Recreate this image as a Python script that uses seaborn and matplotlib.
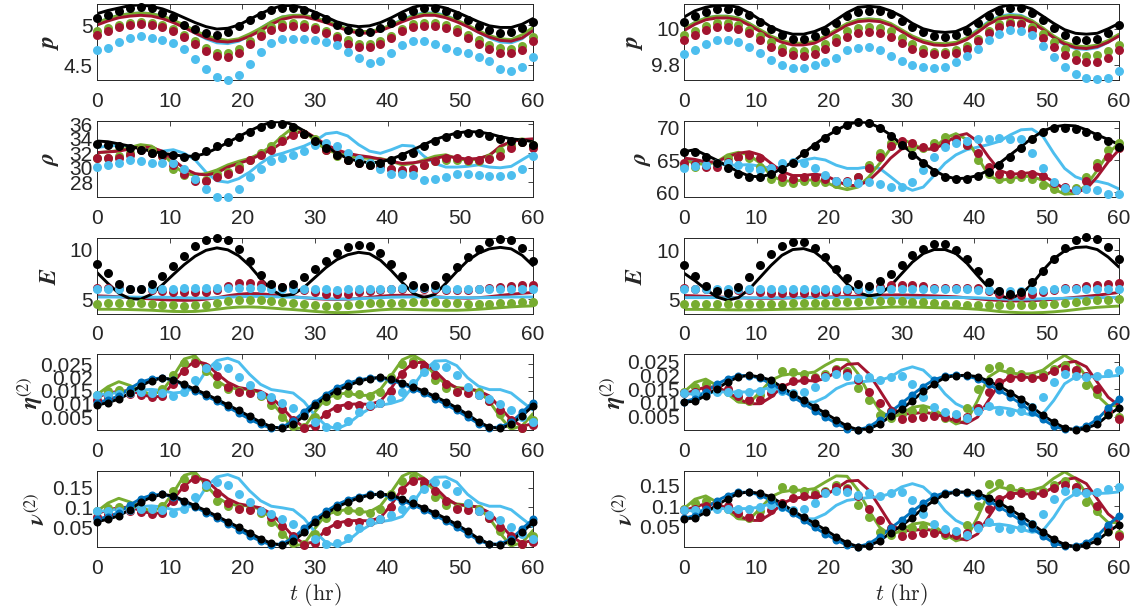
import numpy as np
import matplotlib
matplotlib.use("Agg")
import matplotlib.pyplot as plt
from matplotlib.ticker import FuncFormatter
import seaborn as sns

# ---------------------------------------------------------------- time grid
T = np.linspace(0, 60, 41)          # sampling every 1.5 h
XTICKS = [0, 10, 20, 30, 40, 50, 60]

# ---------------------------------------------------------------- colours
C_BLACK = "#000000"
C_BLUE = "#0072BD"
C_LBLUE = "#4DBEEE"
C_GREEN = "#77AC30"
C_RED = "#A2142F"

# ================================================================ p, left
p_l_black_line = [5.14, 5.18, 5.21, 5.24, 5.25, 5.23, 5.20, 5.15, 5.09, 5.03,
                  4.98, 4.95, 4.96, 5.00, 5.07, 5.14, 5.20, 5.24, 5.24, 5.21,
                  5.16, 5.10, 5.04, 5.00, 4.98, 4.99, 5.03, 5.09, 5.16, 5.22,
                  5.25, 5.24, 5.21, 5.16, 5.10, 5.04, 4.99, 4.97, 4.97, 5.01, 5.08]
p_l_black_dots = [5.09, 5.125, 5.17, 5.21, 5.22, 5.21, 5.15, 5.10, 5.00, 4.95,
                  4.90, 4.875, 4.91, 4.99, 5.06, 5.13, 5.18, 5.21, 5.21, 5.18,
                  5.13, 5.07, 5.00, 4.94, 4.91, 4.91, 4.96, 5.03, 5.11, 5.17,
                  5.21, 5.21, 5.17, 5.12, 5.06, 4.99, 4.94, 4.90, 4.91, 4.96, 5.04]
p_l_green_line = [5.03, 5.08, 5.12, 5.14, 5.15, 5.14, 5.11, 5.06, 5.00, 4.93,
                  4.87, 4.83, 4.81, 4.83, 4.89, 4.96, 5.04, 5.10, 5.12, 5.12,
                  5.09, 5.05, 5.00, 4.95, 4.92, 4.92, 4.95, 5.00, 5.06, 5.11,
                  5.14, 5.14, 5.11, 5.06, 5.00, 4.93, 4.87, 4.83, 4.82, 4.88, 4.97]
p_l_red_line = [5.00, 5.05, 5.09, 5.11, 5.12, 5.11, 5.08, 5.03, 4.97, 4.90,
                4.84, 4.80, 4.79, 4.81, 4.86, 4.93, 5.01, 5.07, 5.10, 5.10,
                5.07, 5.03, 4.98, 4.93, 4.90, 4.90, 4.93, 4.98, 5.04, 5.09,
                5.12, 5.12, 5.09, 5.04, 4.98, 4.91, 4.85, 4.81, 4.80, 4.84, 4.93]
p_l_lblue_line = [5.03, 5.08, 5.12, 5.14, 5.15, 5.14, 5.11, 5.05, 4.98, 4.90,
                  4.83, 4.78, 4.77, 4.80, 4.87, 4.96, 5.04, 5.10, 5.12, 5.12,
                  5.09, 5.05, 5.00, 4.95, 4.91, 4.91, 4.94, 5.00, 5.07, 5.12,
                  5.15, 5.15, 5.12, 5.06, 4.99, 4.91, 4.84, 4.79, 4.78, 4.83, 4.94]
p_l_green_dots = [4.92, 4.96, 5.00, 5.03, 5.04, 5.03, 5.00, 4.95, 4.88, 4.80,
                  4.72, 4.66, 4.65, 4.70, 4.80, 4.90, 4.97, 5.01, 5.02, 5.01,
                  4.98, 4.93, 4.87, 4.81, 4.77, 4.77, 4.80, 4.87, 4.95, 5.01,
                  5.03, 5.03, 5.00, 4.95, 4.88, 4.81, 4.75, 4.71, 4.70, 4.74, 4.85]
p_l_red_dots = [4.875, 4.92, 4.97, 5.00, 5.01, 5.00, 4.97, 4.92, 4.85, 4.76,
                4.68, 4.62, 4.61, 4.66, 4.76, 4.86, 4.94, 4.98, 4.99, 4.98,
                4.95, 4.90, 4.84, 4.77, 4.73, 4.73, 4.77, 4.84, 4.92, 4.97,
                4.99, 4.99, 4.96, 4.91, 4.84, 4.77, 4.70, 4.66, 4.65, 4.69, 4.80]
p_l_lblue_dots = [4.69, 4.72, 4.79, 4.84, 4.86, 4.84, 4.81, 4.78, 4.70, 4.58,
                  4.46, 4.36, 4.32, 4.38, 4.52, 4.67, 4.78, 4.825, 4.83, 4.825,
                  4.82, 4.79, 4.75, 4.67, 4.59, 4.53, 4.55, 4.65, 4.75, 4.80,
                  4.80, 4.77, 4.71, 4.675, 4.65, 4.60, 4.55, 4.46, 4.43, 4.48, 4.60]

# ================================================================ p, right
p_r_black_line = [10.065, 10.10, 10.12, 10.13, 10.13, 10.12, 10.09, 10.05, 10.01, 9.985,
                  9.97, 9.97, 9.985, 10.01, 10.05, 10.09, 10.12, 10.125, 10.12, 10.10,
                  10.07, 10.03, 10.00, 9.985, 9.98, 9.985, 10.01, 10.05, 10.09, 10.12,
                  10.135, 10.13, 10.11, 10.07, 10.03, 9.995, 9.975, 9.97, 9.975, 10.00, 10.03]
p_r_black_dots = [10.04, 10.07, 10.095, 10.11, 10.11, 10.10, 10.075, 10.04, 10.00, 9.965,
                  9.945, 9.945, 9.96, 9.99, 10.03, 10.07, 10.095, 10.10, 10.10, 10.08,
                  10.045, 10.01, 9.98, 9.96, 9.957, 9.965, 9.99, 10.03, 10.07, 10.10,
                  10.117, 10.115, 10.09, 10.05, 10.005, 9.965, 9.94, 9.935, 9.945, 9.975, 10.02]
p_r_green_line = [10.00, 10.035, 10.06, 10.07, 10.07, 10.06, 10.03, 9.995, 9.96, 9.935,
                  9.92, 9.92, 9.93, 9.96, 9.995, 10.03, 10.05, 10.055, 10.05, 10.03,
                  9.995, 9.96, 9.935, 9.92, 9.917, 9.925, 9.95, 9.99, 10.035, 10.065,
                  10.074, 10.07, 10.045, 10.005, 9.96, 9.925, 9.905, 9.90, 9.91, 9.935, 9.97]
p_r_red_line = [9.99, 10.025, 10.05, 10.06, 10.06, 10.05, 10.02, 9.985, 9.95, 9.925,
                9.91, 9.91, 9.92, 9.95, 9.985, 10.02, 10.04, 10.045, 10.04, 10.02,
                9.985, 9.95, 9.925, 9.91, 9.907, 9.915, 9.94, 9.98, 10.025, 10.055,
                10.064, 10.06, 10.035, 9.995, 9.95, 9.915, 9.895, 9.89, 9.90, 9.925, 9.96]
p_r_lblue_line = [10.00, 10.035, 10.06, 10.07, 10.07, 10.06, 10.03, 9.99, 9.955, 9.93,
                  9.915, 9.915, 9.925, 9.955, 9.99, 10.025, 10.05, 10.055, 10.05, 10.025,
                  9.99, 9.955, 9.93, 9.915, 9.912, 9.92, 9.95, 9.995, 10.04, 10.07,
                  10.08, 10.075, 10.045, 10.00, 9.95, 9.91, 9.89, 9.885, 9.895, 9.925, 9.965]
p_r_green_dots = [9.963, 9.99, 10.015, 10.03, 10.03, 10.02, 9.995, 9.96, 9.925, 9.895,
                  9.876, 9.876, 9.885, 9.915, 9.95, 9.985, 10.005, 10.01, 10.005, 9.985,
                  9.95, 9.915, 9.89, 9.872, 9.87, 9.88, 9.905, 9.945, 9.99, 10.025,
                  10.04, 10.035, 10.01, 9.97, 9.925, 9.885, 9.86, 9.85, 9.855, 9.875, 9.91]
p_r_red_dots = [9.935, 9.965, 9.995, 10.01, 10.01, 10.00, 9.975, 9.94, 9.90, 9.87,
                9.852, 9.85, 9.86, 9.89, 9.925, 9.955, 9.975, 9.98, 9.975, 9.955,
                9.92, 9.89, 9.865, 9.857, 9.857, 9.865, 9.89, 9.93, 9.975, 10.01,
                10.028, 10.025, 9.995, 9.95, 9.90, 9.855, 9.825, 9.815, 9.815, 9.84, 9.88]
p_r_lblue_dots = [9.86, 9.88, 9.917, 9.935, 9.935, 9.926, 9.90, 9.865, 9.824, 9.796,
                  9.78, 9.78, 9.796, 9.815, 9.84, 9.88, 9.894, 9.898, 9.883, 9.85,
                  9.82, 9.796, 9.787, 9.783, 9.79, 9.815, 9.846, 9.89, 9.94, 9.972,
                  9.994, 9.99, 9.963, 9.907, 9.843, 9.787, 9.746, 9.726, 9.72, 9.728, 9.763]

# ================================================================ rho, left
r_l_black_line = [33.7, 33.6, 33.3, 33.0, 32.6, 32.3, 32.0, 31.8, 31.6, 31.6,
                  32.0, 32.7, 33.5, 34.3, 35.1, 35.8, 36.3, 36.4, 35.95, 35.1,
                  34.0, 33.0, 32.0, 31.3, 30.9, 30.7, 30.8, 31.2, 31.8, 32.5,
                  33.2, 33.9, 34.4, 34.8, 35.0, 34.95, 34.7, 34.3, 34.0, 33.85, 33.6]
r_l_black_dots = [33.3, 33.2, 33.0, 32.8, 32.5, 32.1, 31.9, 31.7, 31.5, 31.6,
                  32.3, 33.0, 33.5, 34.2, 34.9, 35.6, 36.1, 36.1, 35.6, 34.7,
                  33.7, 32.8, 31.8, 31.1, 30.6, 30.4, 30.7, 31.1, 31.6, 32.1,
                  33.0, 33.7, 34.2, 34.7, 34.8, 34.8, 34.4, 34.0, 33.7, 33.5, 33.2]
r_l_green_line = [32.1, 32.2, 32.4, 32.8, 33.2, 33.0, 32.0, 30.4, 29.2, 29.0,
                  29.2, 29.7, 30.4, 30.9, 31.3, 32.0, 33.0, 34.4, 35.6, 35.1,
                  33.7, 32.5, 32.0, 31.7, 31.4, 31.3, 31.3, 30.9, 30.4, 30.6,
                  31.1, 31.6, 31.8, 31.3, 31.0, 31.2, 31.8, 32.8, 33.7, 34.0, 33.7]
r_l_red_line = [32.1, 32.2, 32.3, 32.6, 32.9, 32.8, 32.3, 31.1, 29.9, 29.2,
                29.0, 29.3, 30.1, 30.6, 31.1, 31.8, 32.5, 33.5, 34.7, 35.1,
                34.2, 33.2, 32.5, 32.0, 31.7, 31.5, 31.2, 30.9, 30.6, 30.7,
                30.9, 31.3, 31.6, 31.4, 31.2, 31.3, 31.7, 33.0, 33.6, 33.9, 34.0]
r_l_lblue_line = [32.8, 33.0, 33.1, 33.0, 32.8, 32.6, 32.3, 32.5, 32.0, 31.1,
                  29.4, 28.2, 28.0, 28.5, 29.4, 30.6, 31.6, 32.0, 32.5, 33.0,
                  33.7, 34.7, 34.9, 34.4, 33.2, 32.3, 32.0, 32.5, 33.1, 33.0,
                  31.6, 30.6, 30.1, 30.1, 30.2, 30.4, 30.1, 30.0, 30.2, 31.1, 32.0]
r_l_green_dots = [31.3, 31.3, 31.6, 32.0, 32.8, 32.5, 31.6, 29.9, 28.95, 28.3,
                  28.3, 29.2, 29.4, 30.2, 31.1, 32.0, 33.0, 33.95, 34.9, 34.7,
                  34.0, 32.5, 31.6, 31.1, 30.9, 30.6, 30.4, 29.9, 29.4, 29.7,
                  30.4, 30.9, 31.1, 31.1, 30.9, 30.9, 31.3, 32.3, 33.2, 33.5, 33.2]
r_l_red_dots = [31.3, 31.3, 31.3, 31.8, 32.4, 32.0, 31.6, 30.4, 29.2, 28.2,
                28.2, 28.7, 29.2, 29.9, 31.1, 31.8, 32.5, 33.7, 34.5, 34.7,
                33.5, 32.5, 31.8, 31.1, 30.6, 30.4, 30.1, 29.9, 29.7, 29.8,
                30.4, 30.9, 31.3, 31.3, 31.1, 31.1, 31.2, 31.6, 32.8, 33.5, 32.8]
r_l_lblue_dots = [30.1, 30.4, 30.6, 31.1, 30.9, 30.6, 30.7, 30.6, 29.9, 28.5,
                  27.05, 26.0, 26.0, 27.05, 28.7, 29.9, 30.9, 31.4, 31.8, 32.3,
                  33.1, 33.4, 33.0, 32.1, 31.2, 30.6, 29.8, 29.2, 29.2, 28.95,
                  28.3, 28.4, 28.7, 29.1, 29.2, 29.0, 28.8, 28.9, 29.0, 29.9, 31.6]

# ================================================================ rho, right
r_r_black_line = [66.3, 66.6, 65.8, 65.0, 64.05, 63.2, 62.5, 62.4, 62.8, 63.7,
                  64.7, 66.05, 67.4, 68.6, 69.6, 70.5, 70.95, 70.8, 70.0, 68.9,
                  67.4, 66.05, 64.6, 63.4, 62.5, 62.1, 62.2, 62.6, 63.4, 64.5,
                  65.8, 67.1, 68.4, 69.5, 70.15, 70.4, 70.3, 69.7, 68.9, 68.2, 67.4]
r_r_black_dots = [66.2, 66.3, 65.5, 64.6, 63.8, 62.9, 62.4, 62.4, 62.9, 63.6,
                  64.6, 66.05, 67.2, 68.4, 69.6, 70.5, 70.9, 70.8, 70.0, 68.8,
                  67.4, 65.8, 64.5, 63.2, 62.4, 62.0, 62.1, 62.5, 63.2, 64.2,
                  65.5, 66.8, 68.2, 69.3, 69.9, 70.0, 69.8, 69.3, 68.7, 67.9, 67.0]
r_r_green_line = [65.0, 64.5, 64.3, 64.7, 65.8, 66.2, 65.8, 64.5, 62.6, 61.8,
                  61.7, 61.9, 61.9, 61.6, 60.8, 60.4, 60.8, 62.4, 64.5, 66.8,
                  68.2, 67.6, 66.6, 66.8, 68.4, 69.1, 68.2, 65.5, 62.6, 61.8,
                  62.1, 62.4, 62.5, 61.8, 60.5, 59.7, 59.8, 61.1, 63.4, 66.05, 67.6]
r_r_red_line = [65.3, 65.1, 64.7, 64.7, 65.5, 66.05, 66.3, 65.8, 64.5, 63.2,
                62.6, 62.6, 62.8, 62.6, 61.8, 61.05, 61.05, 61.8, 63.4, 65.3,
                66.7, 67.1, 66.7, 66.7, 67.6, 68.7, 69.1, 67.9, 65.5, 63.4,
                62.8, 62.9, 63.05, 62.6, 61.6, 60.5, 60.0, 60.5, 62.4, 64.7, 66.6]
r_r_lblue_line = [65.0, 64.9, 64.7, 64.5, 64.2, 64.2, 64.3, 64.05, 63.7, 63.95,
                  64.5, 65.0, 65.3, 65.0, 64.2, 63.7, 63.7, 63.95, 63.7, 62.4,
                  61.05, 60.3, 60.8, 62.6, 64.5, 65.8, 66.6, 67.0, 67.4, 67.9,
                  68.9, 69.7, 69.8, 68.7, 66.05, 63.7, 62.4, 61.8, 61.7, 61.3, 60.5]
r_r_green_dots = [64.05, 63.95, 64.05, 64.5, 65.3, 65.5, 65.3, 63.9, 62.1, 61.6,
                  61.4, 61.7, 61.65, 61.6, 61.3, 61.4, 62.4, 64.2, 66.05, 67.6,
                  67.6, 67.1, 66.8, 67.6, 68.6, 68.4, 67.4, 65.0, 62.9, 62.1,
                  62.1, 62.4, 62.1, 61.2, 60.5, 60.3, 60.7, 62.4, 64.5, 66.6, 67.6]
r_r_red_dots = [64.5, 64.35, 63.95, 63.85, 64.7, 65.5, 65.8, 65.3, 63.7, 62.4,
                62.1, 62.4, 62.4, 62.1, 61.7, 61.8, 62.4, 63.7, 65.5, 67.2,
                67.9, 67.6, 67.1, 67.1, 67.7, 68.2, 67.4, 66.05, 63.9, 62.9,
                62.8, 62.9, 62.9, 62.5, 61.4, 60.8, 60.4, 61.8, 63.9, 65.5, 66.8]
r_r_lblue_dots = [63.8, 64.05, 64.2, 64.5, 64.5, 64.3, 63.8, 63.5, 63.7, 64.5,
                  64.7, 64.5, 63.7, 62.6, 61.8, 61.6, 61.45, 61.6, 61.3, 60.8,
                  60.8, 61.6, 63.4, 65.5, 67.0, 67.6, 67.9, 68.2, 68.3, 68.4,
                  68.3, 68.2, 66.1, 63.7, 61.6, 60.7, 60.4, 60.5, 60.3, 59.8, 59.8]

# ================================================================ E, left
e_l_black_line = [7.7, 6.6, 5.6, 5.05, 5.0, 5.5, 6.45, 7.5, 8.5, 9.35,
                  9.95, 10.2, 10.0, 9.4, 8.4, 7.1, 5.95, 5.35, 5.5, 6.2,
                  7.2, 8.2, 9.0, 9.5, 9.75, 9.6, 8.95, 7.9, 6.7, 5.6,
                  5.15, 5.5, 6.6, 7.8, 8.9, 9.65, 10.1, 10.25, 10.1, 9.45, 8.4]
e_l_black_dots = [8.57, 7.62, 6.53, 6.02, 6.02, 6.53, 7.38, 8.4, 9.42, 10.34,
                  11.02, 11.22, 11.02, 10.1, 8.91, 7.48, 6.53, 6.26, 6.53, 7.21,
                  8.06, 8.91, 9.66, 10.27, 10.54, 10.34, 9.66, 8.57, 7.38, 6.46,
                  6.26, 6.4, 7.28, 8.3, 9.25, 10.1, 10.78, 11.12, 10.95, 10.2, 8.91]
e_l_lblue_line = [5.22, 5.22, 5.22, 5.22, 5.2, 5.2, 5.2, 5.18, 5.15, 5.12,
                  5.12, 5.15, 5.2, 5.25, 5.28, 5.28, 5.25, 5.22, 5.2, 5.15,
                  5.1, 5.05, 5.02, 5.02, 5.05, 5.1, 5.15, 5.2, 5.22, 5.22,
                  5.22, 5.2, 5.18, 5.16, 5.15, 5.15, 5.17, 5.2, 5.22, 5.22, 5.22]
e_l_red_line = [5.34, 5.3, 5.25, 5.18, 5.1, 5.02, 4.95, 4.9, 4.88, 4.9,
                5.0, 5.15, 5.35, 5.5, 5.58, 5.55, 5.45, 5.35, 5.25, 5.15,
                5.05, 5.0, 4.98, 5.0, 5.08, 5.18, 5.3, 5.38, 5.4, 5.38,
                5.32, 5.25, 5.18, 5.12, 5.1, 5.15, 5.25, 5.38, 5.5, 5.6, 5.68]
e_l_green_line = [3.98, 3.98, 3.97, 3.95, 3.92, 3.88, 3.82, 3.76, 3.74, 3.76,
                  3.85, 3.98, 4.12, 4.2, 4.22, 4.18, 4.1, 4.02, 3.95, 3.86,
                  3.76, 3.68, 3.64, 3.65, 3.72, 3.82, 3.92, 3.98, 3.98, 3.95,
                  3.92, 3.9, 3.88, 3.88, 3.92, 3.98, 4.06, 4.14, 4.22, 4.28, 4.32]
e_l_lblue_dots = [6.05, 6.05, 6.07, 6.05, 6.05, 6.05, 6.07, 6.07, 6.1, 6.1,
                  6.12, 6.14, 6.14, 6.12, 6.1, 6.1, 6.07, 6.05, 6.03, 6.01,
                  6.0, 5.99, 5.98, 5.99, 6.01, 6.03, 6.05, 6.07, 6.09, 6.1,
                  6.1, 6.1, 6.08, 6.06, 6.05, 6.03, 6.02, 6.01, 6.01, 6.01, 6.01]
e_l_red_dots = [6.15, 6.12, 6.1, 6.05, 6.0, 5.95, 5.85, 5.75, 5.68, 5.68,
                5.75, 5.95, 6.35, 6.6, 6.6, 6.55, 6.4, 6.2, 6.1, 5.9,
                5.7, 5.55, 5.5, 5.55, 5.7, 5.85, 5.95, 6.0, 6.05, 6.1,
                6.05, 6.0, 5.95, 5.95, 5.95, 6.0, 6.1, 6.25, 6.35, 6.4, 6.45]
e_l_green_dots = [4.56, 4.62, 4.66, 4.66, 4.62, 4.56, 4.45, 4.4, 4.35, 4.38,
                  4.45, 4.62, 4.78, 4.92, 4.95, 4.92, 4.85, 4.76, 4.66, 4.55,
                  4.42, 4.35, 4.32, 4.38, 4.5, 4.6, 4.66, 4.66, 4.66, 4.68,
                  4.72, 4.7, 4.66, 4.58, 4.5, 4.5, 4.52, 4.6, 4.66, 4.72, 4.76]

# ================================================================ E, right
e_r_black_line = [7.66, 6.9, 6.03, 5.24, 4.9, 5.17, 6.03, 7.24, 8.45, 9.48,
                  10.07, 10.17, 9.83, 8.97, 7.76, 6.55, 5.69, 5.34, 5.52, 6.38,
                  7.59, 8.79, 9.66, 10.07, 10.07, 9.66, 8.69, 7.41, 6.2, 5.34,
                  5.1, 5.52, 6.55, 7.93, 9.14, 9.93, 10.28, 10.34, 10.07, 9.31, 8.28]
e_r_black_dots = [8.45, 7.41, 6.38, 5.86, 5.69, 6.28, 7.24, 8.45, 9.59, 10.41,
                  10.86, 10.86, 10.28, 9.31, 8.1, 7.17, 6.55, 6.38, 6.83, 7.59,
                  8.45, 9.48, 10.17, 10.62, 10.62, 10.07, 9.14, 7.93, 6.72, 5.86,
                  5.52, 5.79, 6.72, 7.93, 9.14, 10.28, 11.03, 11.31, 11.1, 10.34, 9.14]
e_r_lblue_line = [5.17, 5.17, 5.17, 5.17, 5.16, 5.15, 5.15, 5.15, 5.15, 5.15,
                  5.15, 5.16, 5.17, 5.18, 5.18, 5.18, 5.17, 5.17, 5.16, 5.16,
                  5.15, 5.15, 5.16, 5.17, 5.18, 5.18, 5.17, 5.15, 5.1, 5.05,
                  5.0, 5.0, 5.02, 5.05, 5.08, 5.1, 5.12, 5.14, 5.16, 5.18, 5.2]
e_r_red_line = [5.38, 5.35, 5.3, 5.25, 5.2, 5.15, 5.12, 5.1, 5.1, 5.12,
                5.15, 5.18, 5.2, 5.22, 5.25, 5.28, 5.32, 5.38, 5.42, 5.45,
                5.45, 5.42, 5.38, 5.35, 5.3, 5.25, 5.15, 5.05, 4.95, 4.88,
                4.83, 4.82, 4.85, 4.92, 5.0, 5.1, 5.2, 5.3, 5.42, 5.55, 5.7]
e_r_green_line = [3.97, 3.97, 3.96, 3.95, 3.93, 3.92, 3.92, 3.93, 3.95, 3.98,
                  4.0, 4.02, 4.03, 4.03, 4.02, 4.02, 4.05, 4.1, 4.15, 4.2,
                  4.21, 4.2, 4.18, 4.15, 4.12, 4.1, 4.05, 3.98, 3.88, 3.75,
                  3.68, 3.63, 3.62, 3.65, 3.72, 3.82, 3.95, 4.08, 4.18, 4.25, 4.31]
e_r_lblue_dots = [6.03, 6.03, 6.04, 6.04, 6.03, 6.03, 6.03, 6.05, 6.05, 6.06,
                  6.06, 6.05, 6.05, 6.05, 6.06, 6.06, 6.05, 6.05, 6.05, 6.05,
                  6.05, 6.03, 6.03, 6.03, 6.03, 6.0, 6.0, 5.95, 5.9, 5.86,
                  5.86, 5.86, 5.9, 5.95, 6.0, 6.03, 6.05, 6.05, 6.05, 6.05, 6.05]
e_r_red_dots = [6.1, 6.05, 6.0, 5.95, 5.95, 5.95, 5.9, 5.75, 5.65, 5.62,
                5.62, 5.62, 5.65, 5.7, 5.75, 5.85, 5.95, 6.1, 6.3, 6.45,
                6.48, 6.45, 6.35, 6.2, 6.1, 6.1, 6.2, 6.15, 5.85, 5.55,
                5.45, 5.45, 5.55, 5.75, 5.95, 6.1, 6.2, 6.35, 6.5, 6.6, 6.65]
e_r_green_dots = [4.48, 4.5, 4.52, 4.52, 4.5, 4.48, 4.48, 4.5, 4.52, 4.55,
                  4.58, 4.6, 4.62, 4.65, 4.68, 4.7, 4.75, 4.8, 4.83, 4.83,
                  4.8, 4.75, 4.7, 4.62, 4.55, 4.5, 4.45, 4.42, 4.41, 4.42,
                  4.42, 4.4, 4.42, 4.48, 4.55, 4.62, 4.7, 4.8, 4.88, 4.95, 5.03]

# ================================================================ eta(2), left
eta_l_black = [0.0095, 0.0105, 0.0118, 0.0140, 0.0168, 0.0188, 0.0198, 0.0192, 0.0174, 0.0155,
               0.0137, 0.0117, 0.0096, 0.0075, 0.0053, 0.0031, 0.0013, 0.0007, 0.0022, 0.0055,
               0.0095, 0.0125, 0.0150, 0.0168, 0.0185, 0.0196, 0.0200, 0.0195, 0.0180, 0.0165,
               0.0148, 0.0128, 0.0108, 0.0085, 0.0060, 0.0032, 0.0012, 0.0007, 0.0022, 0.0055, 0.0092]
eta_l_blue = [0.0105, 0.0115, 0.0130, 0.0158, 0.0182, 0.0195, 0.0198, 0.0190, 0.0170, 0.0150,
              0.0130, 0.0110, 0.0088, 0.0065, 0.0042, 0.0022, 0.0008, 0.0012, 0.0035, 0.0070,
              0.0105, 0.0135, 0.0160, 0.0178, 0.0190, 0.0198, 0.0198, 0.0190, 0.0175, 0.0158,
              0.0140, 0.0120, 0.0098, 0.0075, 0.0050, 0.0025, 0.0010, 0.0012, 0.0030, 0.0068, 0.0105]
eta_l_green_line = [0.0135, 0.0165, 0.0184, 0.0170, 0.0150, 0.0135, 0.0150, 0.0205, 0.0270, 0.0282,
                    0.0234, 0.0188, 0.0162, 0.0156, 0.0155, 0.0142, 0.0109, 0.0057, 0.0005, 0.0010,
                    0.0070, 0.0122, 0.0135, 0.0142, 0.0131, 0.0133, 0.0155, 0.0208, 0.0267, 0.0285,
                    0.0260, 0.0208, 0.0175, 0.0162, 0.0158, 0.0149, 0.0109, 0.0050, 0.0004, 0.0017, 0.0063]
eta_l_red_line = [0.0125, 0.0140, 0.0148, 0.0150, 0.0138, 0.0125, 0.0130, 0.0180, 0.0232, 0.0262,
                  0.0252, 0.0215, 0.0182, 0.0162, 0.0155, 0.0148, 0.0125, 0.0085, 0.0040, 0.0012,
                  0.0020, 0.0065, 0.0090, 0.0098, 0.0100, 0.0098, 0.0110, 0.0160, 0.0220, 0.0255,
                  0.0258, 0.0225, 0.0185, 0.0160, 0.0155, 0.0150, 0.0130, 0.0085, 0.0040, 0.0015, 0.0025]
eta_l_lblue_line = [0.0135, 0.0138, 0.0143, 0.0148, 0.0152, 0.0155, 0.0150, 0.0141, 0.0145, 0.0160,
                    0.0225, 0.0264, 0.0273, 0.0258, 0.0212, 0.0174, 0.0154, 0.0148, 0.0141, 0.0108,
                    0.0056, 0.0018, 0.0005, 0.0023, 0.0056, 0.0082, 0.0095, 0.0102, 0.0115, 0.0167,
                    0.0225, 0.0262, 0.0264, 0.0245, 0.0199, 0.0167, 0.0154, 0.0154, 0.0141, 0.0108, 0.0076]
eta_l_green_dots = [0.0135, 0.0148, 0.0152, 0.0148, 0.0145, 0.0135, 0.0155, 0.0210, 0.0255, 0.0262,
                    0.0225, 0.0175, 0.0155, 0.0148, 0.0145, 0.0130, 0.0095, 0.0050, 0.0015, 0.0012,
                    0.0050, 0.0110, 0.0135, 0.0140, 0.0138, 0.0130, 0.0145, 0.0200, 0.0250, 0.0262,
                    0.0235, 0.0190, 0.0160, 0.0148, 0.0155, 0.0145, 0.0110, 0.0060, 0.0020, 0.0010, 0.0040]
eta_l_red_dots = [0.0115, 0.0125, 0.0135, 0.0138, 0.0132, 0.0125, 0.0130, 0.0175, 0.0225, 0.0255,
                  0.0240, 0.0205, 0.0165, 0.0145, 0.0140, 0.0135, 0.0115, 0.0080, 0.0040, 0.0008,
                  0.0015, 0.0060, 0.0085, 0.0095, 0.0095, 0.0093, 0.0105, 0.0150, 0.0215, 0.0250,
                  0.0245, 0.0210, 0.0175, 0.0145, 0.0140, 0.0135, 0.0110, 0.0075, 0.0040, 0.0010, 0.0020]
eta_l_lblue_dots = [0.0135, 0.0135, 0.0138, 0.0140, 0.0145, 0.0142, 0.0140, 0.0130, 0.0145, 0.0190,
                    0.0235, 0.0245, 0.0235, 0.0200, 0.0170, 0.0135, 0.0125, 0.0105, 0.0085, 0.0060,
                    0.0030, 0.0012, 0.0015, 0.0035, 0.0070, 0.0095, 0.0105, 0.0120, 0.0145, 0.0180,
                    0.0220, 0.0245, 0.0238, 0.0210, 0.0165, 0.0135, 0.0120, 0.0100, 0.0075, 0.0050, 0.0030]

# ================================================================ eta(2), right
eta_r_black = [0.0103, 0.0106, 0.0127, 0.0152, 0.0176, 0.0195, 0.0201, 0.0195, 0.0183, 0.0158,
               0.0133, 0.0109, 0.0086, 0.0062, 0.0038, 0.0015, 0.0002, 0.0005, 0.0023, 0.0052,
               0.0077, 0.0108, 0.0142, 0.0170, 0.0193, 0.0200, 0.0201, 0.0196, 0.0180, 0.0161,
               0.0138, 0.0113, 0.0085, 0.0055, 0.0029, 0.0009, 0.0002, 0.0008, 0.0022, 0.0055, 0.0082]
eta_r_blue = [0.0105, 0.0115, 0.0140, 0.0168, 0.0188, 0.0200, 0.0200, 0.0190, 0.0170, 0.0148,
              0.0122, 0.0098, 0.0072, 0.0048, 0.0025, 0.0006, 0.0002, 0.0012, 0.0038, 0.0068,
              0.0098, 0.0130, 0.0160, 0.0185, 0.0198, 0.0202, 0.0198, 0.0188, 0.0168, 0.0146,
              0.0122, 0.0096, 0.0068, 0.0040, 0.0015, 0.0003, 0.0003, 0.0015, 0.0040, 0.0080, 0.0115]
eta_r_green_line = [0.0140, 0.0175, 0.0187, 0.0164, 0.0133, 0.0103, 0.0100, 0.0140, 0.0183, 0.0201,
                    0.0207, 0.0207, 0.0213, 0.0238, 0.0259, 0.0258, 0.0207, 0.0133, 0.0072, 0.0045,
                    0.0060, 0.0084, 0.0090, 0.0078, 0.0048, 0.0023, 0.0035, 0.0109, 0.0195, 0.0220,
                    0.0210, 0.0205, 0.0207, 0.0220, 0.0250, 0.0274, 0.0250, 0.0195, 0.0127, 0.0090, 0.0090]
eta_r_red_line = [0.0133, 0.0146, 0.0158, 0.0158, 0.0140, 0.0115, 0.0097, 0.0097, 0.0121, 0.0158,
                  0.0176, 0.0183, 0.0180, 0.0189, 0.0213, 0.0241, 0.0244, 0.0207, 0.0146, 0.0084,
                  0.0060, 0.0060, 0.0066, 0.0060, 0.0048, 0.0033, 0.0025, 0.0048, 0.0109, 0.0170,
                  0.0195, 0.0195, 0.0192, 0.0195, 0.0220, 0.0246, 0.0252, 0.0232, 0.0176, 0.0121, 0.0090]
eta_r_lblue_line = [0.0133, 0.0133, 0.0135, 0.0140, 0.0140, 0.0140, 0.0140, 0.0146, 0.0158, 0.0146,
                    0.0121, 0.0103, 0.0103, 0.0121, 0.0152, 0.0170, 0.0176, 0.0180, 0.0183, 0.0195,
                    0.0220, 0.0232, 0.0220, 0.0183, 0.0133, 0.0097, 0.0078, 0.0078, 0.0080, 0.0084,
                    0.0078, 0.0066, 0.0054, 0.0060, 0.0109, 0.0170, 0.0195, 0.0197, 0.0195, 0.0197, 0.0201]
eta_r_green_dots = [0.0140, 0.0160, 0.0168, 0.0160, 0.0140, 0.0118, 0.0108, 0.0130, 0.0175, 0.0218,
                    0.0212, 0.0205, 0.0195, 0.0205, 0.0225, 0.0215, 0.0155, 0.0110, 0.0055, 0.0045,
                    0.0060, 0.0070, 0.0075, 0.0060, 0.0045, 0.0040, 0.0080, 0.0150, 0.0228, 0.0235,
                    0.0215, 0.0205, 0.0195, 0.0205, 0.0225, 0.0240, 0.0215, 0.0165, 0.0133, 0.0060, 0.0048]
eta_r_red_dots = [0.0135, 0.0140, 0.0150, 0.0158, 0.0150, 0.0125, 0.0110, 0.0110, 0.0135, 0.0160,
                  0.0180, 0.0185, 0.0190, 0.0200, 0.0220, 0.0210, 0.0185, 0.0140, 0.0100, 0.0070,
                  0.0040, 0.0045, 0.0050, 0.0052, 0.0050, 0.0045, 0.0050, 0.0080, 0.0140, 0.0175,
                  0.0190, 0.0195, 0.0190, 0.0195, 0.0215, 0.0225, 0.0220, 0.0200, 0.0150, 0.0070, 0.0040]
eta_r_lblue_dots = [0.0135, 0.0135, 0.0135, 0.0140, 0.0140, 0.0138, 0.0140, 0.0145, 0.0152, 0.0145,
                    0.0135, 0.0140, 0.0160, 0.0195, 0.0205, 0.0200, 0.0190, 0.0195, 0.0185, 0.0195,
                    0.0200, 0.0170, 0.0120, 0.0085, 0.0065, 0.0060, 0.0045, 0.0070, 0.0090, 0.0070,
                    0.0065, 0.0070, 0.0084, 0.0120, 0.0175, 0.0205, 0.0200, 0.0195, 0.0200, 0.0210, 0.0220]

# ================================================================ nu(2), left
nu_l_black = [0.064, 0.070, 0.079, 0.094, 0.113, 0.126, 0.133, 0.129, 0.117, 0.104,
              0.092, 0.078, 0.064, 0.050, 0.036, 0.021, 0.009, 0.005, 0.015, 0.037,
              0.064, 0.084, 0.101, 0.113, 0.124, 0.131, 0.134, 0.131, 0.121, 0.111,
              0.099, 0.086, 0.072, 0.057, 0.040, 0.021, 0.008, 0.005, 0.015, 0.037, 0.062]
nu_l_blue = [0.070, 0.077, 0.087, 0.106, 0.122, 0.131, 0.133, 0.127, 0.114, 0.101,
             0.087, 0.074, 0.059, 0.044, 0.028, 0.015, 0.005, 0.008, 0.023, 0.047,
             0.070, 0.090, 0.107, 0.119, 0.127, 0.133, 0.133, 0.127, 0.117, 0.106,
             0.094, 0.080, 0.066, 0.050, 0.034, 0.017, 0.007, 0.008, 0.020, 0.046, 0.070]
nu_l_green_line = [0.090, 0.111, 0.123, 0.114, 0.101, 0.090, 0.101, 0.137, 0.181, 0.189,
                   0.157, 0.126, 0.109, 0.105, 0.104, 0.095, 0.073, 0.038, 0.003, 0.007,
                   0.047, 0.082, 0.090, 0.095, 0.088, 0.089, 0.104, 0.139, 0.179, 0.191,
                   0.174, 0.139, 0.117, 0.109, 0.106, 0.100, 0.073, 0.034, 0.003, 0.011, 0.042]
nu_l_red_line = [0.084, 0.094, 0.099, 0.101, 0.092, 0.084, 0.087, 0.121, 0.155, 0.176,
                 0.169, 0.144, 0.122, 0.109, 0.104, 0.099, 0.084, 0.057, 0.027, 0.008,
                 0.013, 0.044, 0.060, 0.066, 0.067, 0.066, 0.074, 0.107, 0.147, 0.171,
                 0.173, 0.151, 0.124, 0.107, 0.104, 0.101, 0.087, 0.057, 0.027, 0.010, 0.017]
nu_l_lblue_line = [0.090, 0.092, 0.096, 0.099, 0.102, 0.104, 0.101, 0.094, 0.097, 0.107,
                   0.151, 0.177, 0.183, 0.173, 0.142, 0.117, 0.103, 0.099, 0.094, 0.072,
                   0.038, 0.012, 0.003, 0.015, 0.038, 0.055, 0.064, 0.068, 0.077, 0.112,
                   0.151, 0.176, 0.177, 0.164, 0.133, 0.112, 0.103, 0.103, 0.094, 0.072, 0.051]
nu_l_green_dots = [0.090, 0.099, 0.102, 0.099, 0.097, 0.090, 0.104, 0.141, 0.171, 0.176,
                   0.151, 0.117, 0.104, 0.099, 0.097, 0.087, 0.064, 0.034, 0.010, 0.008,
                   0.034, 0.074, 0.090, 0.094, 0.092, 0.087, 0.097, 0.134, 0.168, 0.176,
                   0.157, 0.127, 0.107, 0.099, 0.104, 0.097, 0.074, 0.040, 0.013, 0.007, 0.027]
nu_l_red_dots = [0.077, 0.084, 0.090, 0.092, 0.088, 0.084, 0.087, 0.117, 0.151, 0.171,
                 0.161, 0.137, 0.111, 0.097, 0.094, 0.090, 0.077, 0.054, 0.027, 0.005,
                 0.010, 0.040, 0.057, 0.064, 0.064, 0.062, 0.070, 0.101, 0.144, 0.168,
                 0.164, 0.141, 0.117, 0.097, 0.094, 0.090, 0.074, 0.050, 0.027, 0.007, 0.013]
nu_l_lblue_dots = [0.090, 0.090, 0.092, 0.094, 0.097, 0.095, 0.094, 0.087, 0.097, 0.127,
                   0.157, 0.164, 0.157, 0.134, 0.114, 0.090, 0.084, 0.070, 0.057, 0.040,
                   0.020, 0.008, 0.010, 0.023, 0.047, 0.064, 0.070, 0.080, 0.097, 0.121,
                   0.147, 0.164, 0.159, 0.141, 0.111, 0.090, 0.080, 0.067, 0.050, 0.034, 0.020]

# ================================================================ nu(2), right
nu_r_black = [0.069, 0.071, 0.085, 0.102, 0.118, 0.131, 0.135, 0.131, 0.123, 0.106,
              0.089, 0.073, 0.058, 0.042, 0.025, 0.010, 0.001, 0.003, 0.015, 0.035,
              0.052, 0.072, 0.095, 0.114, 0.129, 0.134, 0.135, 0.131, 0.121, 0.108,
              0.092, 0.076, 0.057, 0.037, 0.019, 0.006, 0.001, 0.005, 0.015, 0.037, 0.055]
nu_r_blue = [0.070, 0.077, 0.094, 0.113, 0.126, 0.134, 0.134, 0.127, 0.114, 0.099,
             0.082, 0.066, 0.048, 0.032, 0.017, 0.004, 0.001, 0.008, 0.025, 0.046,
             0.066, 0.087, 0.107, 0.124, 0.133, 0.135, 0.133, 0.126, 0.113, 0.098,
             0.082, 0.064, 0.046, 0.027, 0.010, 0.002, 0.002, 0.010, 0.027, 0.054, 0.077]
nu_r_green_line = [0.094, 0.117, 0.125, 0.110, 0.089, 0.069, 0.067, 0.094, 0.123, 0.135,
                   0.139, 0.139, 0.143, 0.159, 0.174, 0.173, 0.139, 0.089, 0.048, 0.030,
                   0.040, 0.056, 0.060, 0.052, 0.032, 0.015, 0.023, 0.073, 0.131, 0.147,
                   0.141, 0.137, 0.139, 0.147, 0.168, 0.184, 0.168, 0.131, 0.085, 0.060, 0.060]
nu_r_red_line = [0.089, 0.098, 0.106, 0.106, 0.094, 0.077, 0.065, 0.065, 0.081, 0.106,
                 0.118, 0.123, 0.121, 0.127, 0.143, 0.161, 0.163, 0.139, 0.098, 0.056,
                 0.040, 0.040, 0.044, 0.040, 0.032, 0.022, 0.017, 0.032, 0.073, 0.114,
                 0.131, 0.131, 0.129, 0.131, 0.147, 0.165, 0.169, 0.155, 0.118, 0.081, 0.060]
nu_r_lblue_line = [0.089, 0.089, 0.090, 0.094, 0.094, 0.094, 0.094, 0.098, 0.106, 0.098,
                   0.081, 0.069, 0.069, 0.081, 0.102, 0.114, 0.118, 0.121, 0.123, 0.131,
                   0.147, 0.155, 0.147, 0.123, 0.089, 0.065, 0.052, 0.052, 0.054, 0.056,
                   0.052, 0.044, 0.036, 0.040, 0.073, 0.114, 0.131, 0.132, 0.131, 0.132, 0.135]
nu_r_green_dots = [0.094, 0.107, 0.113, 0.107, 0.094, 0.079, 0.072, 0.087, 0.117, 0.146,
                   0.142, 0.137, 0.131, 0.137, 0.151, 0.144, 0.104, 0.074, 0.037, 0.030,
                   0.040, 0.047, 0.050, 0.040, 0.030, 0.027, 0.054, 0.101, 0.153, 0.157,
                   0.144, 0.137, 0.131, 0.137, 0.151, 0.161, 0.144, 0.111, 0.089, 0.040, 0.032]
nu_r_red_dots = [0.090, 0.094, 0.101, 0.106, 0.101, 0.084, 0.074, 0.074, 0.090, 0.107,
                 0.121, 0.124, 0.127, 0.134, 0.147, 0.141, 0.124, 0.094, 0.067, 0.047,
                 0.027, 0.030, 0.034, 0.035, 0.034, 0.030, 0.034, 0.054, 0.094, 0.117,
                 0.127, 0.131, 0.127, 0.131, 0.144, 0.151, 0.147, 0.134, 0.101, 0.047, 0.027]
nu_r_lblue_dots = [0.090, 0.090, 0.090, 0.094, 0.094, 0.092, 0.094, 0.097, 0.102, 0.097,
                   0.090, 0.094, 0.107, 0.131, 0.137, 0.134, 0.127, 0.131, 0.124, 0.131,
                   0.134, 0.114, 0.080, 0.057, 0.044, 0.040, 0.030, 0.047, 0.060, 0.047,
                   0.044, 0.047, 0.056, 0.080, 0.117, 0.137, 0.134, 0.131, 0.134, 0.141, 0.147]

# ---------------------------------------------------------------- axis setup
Y_LABELS = [r"$\mathbfit{p}$", r"$\mathbfit{\rho}$", r"$\mathbfit{E}$",
            r"$\mathbfit{\eta}^{(2)}$", r"$\mathbfit{\nu}^{(2)}$"]
Y_TICKS = [[4.5, 5], [28, 30, 32, 34, 36], [5, 10],
           [0.005, 0.01, 0.015, 0.02, 0.025], [0.05, 0.1, 0.15]]
Y_TICKS_R = [[9.8, 10], [60, 65, 70], [5, 10],
             [0.005, 0.01, 0.015, 0.02, 0.025], [0.05, 0.1, 0.15]]
Y_LIMS_L = [(4.32, 5.26), (26.0, 36.5), (3.55, 11.25), (0.0, 0.0288), (0.0, 0.192)]
Y_LIMS_R = [(9.715, 10.138), (59.3, 71.1), (3.55, 11.3), (0.0, 0.0278), (0.0, 0.186)]
# horizontal centre of each y label, in pixels
YLABEL_X_L = [50, 50, 50, 30, 37]
YLABEL_X_R = [634, 642, 636, 613, 625]

PANELS_L = [
    dict(lines=[(C_LBLUE, p_l_lblue_line), (C_GREEN, p_l_green_line), (C_RED, p_l_red_line),
                (C_BLACK, p_l_black_line)],
         dots=[(C_GREEN, p_l_green_dots), (C_RED, p_l_red_dots), (C_LBLUE, p_l_lblue_dots),
               (C_BLACK, p_l_black_dots)], both=[]),
    dict(lines=[(C_LBLUE, r_l_lblue_line), (C_GREEN, r_l_green_line), (C_RED, r_l_red_line),
                (C_BLACK, r_l_black_line)],
         dots=[(C_GREEN, r_l_green_dots), (C_RED, r_l_red_dots), (C_LBLUE, r_l_lblue_dots),
               (C_BLACK, r_l_black_dots)], both=[]),
    dict(lines=[(C_GREEN, e_l_green_line), (C_RED, e_l_red_line), (C_LBLUE, e_l_lblue_line),
                (C_BLACK, e_l_black_line)],
         dots=[(C_GREEN, e_l_green_dots), (C_RED, e_l_red_dots), (C_LBLUE, e_l_lblue_dots),
               (C_BLACK, e_l_black_dots)], both=[]),
    dict(lines=[(C_GREEN, eta_l_green_line), (C_RED, eta_l_red_line), (C_LBLUE, eta_l_lblue_line)],
         dots=[(C_GREEN, eta_l_green_dots), (C_RED, eta_l_red_dots), (C_LBLUE, eta_l_lblue_dots)],
         both=[(C_BLUE, eta_l_blue), (C_BLACK, eta_l_black)]),
    dict(lines=[(C_GREEN, nu_l_green_line), (C_RED, nu_l_red_line), (C_LBLUE, nu_l_lblue_line)],
         dots=[(C_GREEN, nu_l_green_dots), (C_RED, nu_l_red_dots), (C_LBLUE, nu_l_lblue_dots)],
         both=[(C_BLUE, nu_l_blue), (C_BLACK, nu_l_black)]),
]
PANELS_R = [
    dict(lines=[(C_LBLUE, p_r_lblue_line), (C_GREEN, p_r_green_line), (C_RED, p_r_red_line),
                (C_BLACK, p_r_black_line)],
         dots=[(C_GREEN, p_r_green_dots), (C_RED, p_r_red_dots), (C_LBLUE, p_r_lblue_dots),
               (C_BLACK, p_r_black_dots)], both=[]),
    dict(lines=[(C_LBLUE, r_r_lblue_line), (C_GREEN, r_r_green_line), (C_RED, r_r_red_line),
                (C_BLACK, r_r_black_line)],
         dots=[(C_GREEN, r_r_green_dots), (C_RED, r_r_red_dots), (C_LBLUE, r_r_lblue_dots),
               (C_BLACK, r_r_black_dots)], both=[]),
    dict(lines=[(C_GREEN, e_r_green_line), (C_RED, e_r_red_line), (C_LBLUE, e_r_lblue_line),
                (C_BLACK, e_r_black_line)],
         dots=[(C_GREEN, e_r_green_dots), (C_RED, e_r_red_dots), (C_LBLUE, e_r_lblue_dots),
               (C_BLACK, e_r_black_dots)], both=[]),
    dict(lines=[(C_GREEN, eta_r_green_line), (C_RED, eta_r_red_line), (C_LBLUE, eta_r_lblue_line)],
         dots=[(C_GREEN, eta_r_green_dots), (C_RED, eta_r_red_dots), (C_LBLUE, eta_r_lblue_dots)],
         both=[(C_BLUE, eta_r_blue), (C_BLACK, eta_r_black)]),
    dict(lines=[(C_GREEN, nu_r_green_line), (C_RED, nu_r_red_line), (C_LBLUE, nu_r_lblue_line)],
         dots=[(C_GREEN, nu_r_green_dots), (C_RED, nu_r_red_dots), (C_LBLUE, nu_r_lblue_dots)],
         both=[(C_BLUE, nu_r_blue), (C_BLACK, nu_r_black)]),
]

# ---------------------------------------------------------------- style
sns.set_theme(style="white")
plt.rcParams.update({
    "font.family": ["Liberation Sans", "DejaVu Sans"],
    "axes.edgecolor": "#262626",
    "axes.linewidth": 0.7,
    "xtick.color": "#262626",
    "ytick.color": "#262626",
    "xtick.labelcolor": "#262626",
    "ytick.labelcolor": "#262626",
    "xtick.direction": "in",
    "ytick.direction": "in",
})

W, H = 1133, 609
fig = plt.figure(figsize=(W / 100, H / 100), dpi=100)

ROW_TOPS = [4, 120.75, 237.5, 354.25, 471]
ROW_H = 76
COLS = [(97, 436), (684, 435)]

LW = 2.1
DOT_S = 42
fmt = FuncFormatter(lambda v, _: f"{v:g}")


def draw_panel(ax, spec, ylim, yticks, ylabel, label_x, show_xlabel):
    for color, vals in spec["lines"]:
        sns.lineplot(x=T, y=vals, ax=ax, color=color, linewidth=LW,
                     estimator=None, sort=False, legend=False, zorder=2)
    for color, vals in spec["both"]:
        sns.lineplot(x=T, y=vals, ax=ax, color=color, linewidth=LW,
                     estimator=None, sort=False, legend=False, zorder=2)
    for color, vals in spec["dots"]:
        sns.scatterplot(x=T, y=vals, ax=ax, color=color, s=DOT_S, linewidth=0,
                        legend=False, zorder=3, clip_on=False)
    for color, vals in spec["both"]:
        sns.scatterplot(x=T, y=vals, ax=ax, color=color, s=DOT_S * 0.8, linewidth=0,
                        legend=False, zorder=3, clip_on=False)
    ax.set_xlim(0, 60)
    ax.set_ylim(*ylim)
    ax.set_xticks(XTICKS)
    ax.set_yticks(yticks)
    ax.yaxis.set_major_formatter(fmt)
    ax.tick_params(axis="both", which="major", labelsize=15, length=3.5, width=0.6,
                   top=True, right=True)
    ax.tick_params(axis="x", pad=8.5)
    ax.tick_params(axis="y", pad=3)
    for sp in ax.spines.values():
        sp.set_visible(True)
        sp.set_color("#262626")
        sp.set_linewidth(0.7)
    ax.set_ylabel(ylabel, fontsize=17, math_fontfamily="stix", va="center")
    ax.yaxis.set_label_coords(label_x, 0.5)
    if show_xlabel:
        ax.set_xlabel(r"$t\ \mathrm{(hr)}$", fontsize=16, math_fontfamily="cm", labelpad=2)
    else:
        ax.set_xlabel("")


for col, (x0, w) in enumerate(COLS):
    panels = PANELS_L if col == 0 else PANELS_R
    lims = Y_LIMS_L if col == 0 else Y_LIMS_R
    ticks = Y_TICKS if col == 0 else Y_TICKS_R
    lab_x = YLABEL_X_L if col == 0 else YLABEL_X_R
    for row in range(5):
        top = ROW_TOPS[row]
        ax = fig.add_axes([x0 / W, 1 - (top + ROW_H) / H, w / W, ROW_H / H])
        ax.set_facecolor("white")
        draw_panel(ax, panels[row], lims[row], ticks[row], Y_LABELS[row],
                   (lab_x[row] - x0) / w, row == 4)

fig.savefig("out.png", dpi=100, facecolor="white")
